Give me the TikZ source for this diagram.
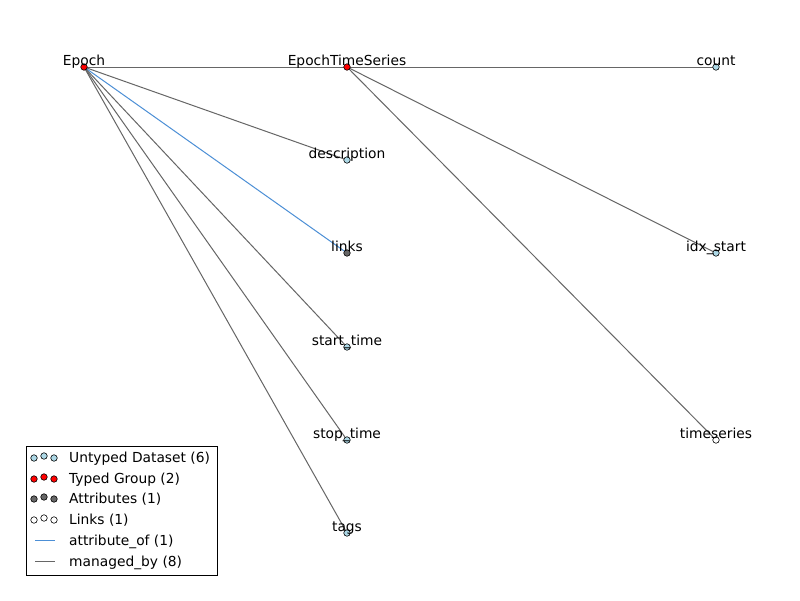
\documentclass[tikz,border=0pt]{standalone}
\usepackage{fontspec}
\setmainfont{DejaVu Sans}
\definecolor{dsfill}{HTML}{ADD8E6}
\definecolor{attrfill}{HTML}{666666}
\definecolor{mgray}{HTML}{666666}
\definecolor{ablue}{HTML}{4C8FD6}
\begin{document}
\begin{tikzpicture}[x=1pt,y=-1pt,
  pt/.style={circle,draw=black,line width=0.6pt,inner sep=0pt,minimum size=6.5pt},
  dset/.style={pt,fill=dsfill},
  tgroup/.style={pt,fill=red},
  attr/.style={pt,fill=attrfill},
  lnk/.style={pt,fill=white},
  managed/.style={draw=mgray,line width=1pt},
  attrof/.style={draw=ablue,line width=1pt},
  lbl/.style={anchor=base,inner sep=0pt,font=\fontsize{13.8}{16}\selectfont},
  legtxt/.style={anchor=base west,inner sep=0pt,font=\fontsize{13.8}{16}\selectfont}]
\useasboundingbox (0,0) rectangle (800,600);
\fill[white] (0,0) rectangle (800,600);
% graph nodes
\coordinate (epoch) at (84,67);
\coordinate (ets) at (347,67);
\coordinate (count) at (716,67);
\coordinate (desc) at (347,160);
\coordinate (links) at (347,253);
\coordinate (start) at (347,347);
\coordinate (stop) at (347,440);
\coordinate (tags) at (347,533);
\coordinate (idx) at (716,253);
\coordinate (ts) at (716,440);
% edges
\draw[managed] (epoch) -- (ets);
\draw[managed] (epoch) -- (desc);
\draw[attrof] (epoch) -- (links);
\draw[managed] (epoch) -- (start);
\draw[managed] (epoch) -- (stop);
\draw[managed] (epoch) -- (tags);
\draw[managed] (ets) -- (count);
\draw[managed] (ets) -- (idx);
\draw[managed] (ets) -- (ts);
% markers
\node[tgroup] (m-epoch) at (epoch) {};
\node[tgroup] (m-ets) at (ets) {};
\node[dset] (m-count) at (count) {};
\node[dset] (m-desc) at (desc) {};
\node[attr] (m-links) at (links) {};
\node[dset] (m-start) at (start) {};
\node[dset] (m-stop) at (stop) {};
\node[dset] (m-tags) at (tags) {};
\node[dset] (m-idx) at (idx) {};
\node[lnk] (m-ts) at (ts) {};
% labels
\node[lbl] (l-epoch) at (84,65.5) {Epoch};
\node[lbl] (l-ets) at (347,65.5) {EpochTimeSeries};
\node[lbl] (l-count) at (716,65.5) {count};
\node[lbl] (l-desc) at (347,158.5) {description};
\node[lbl] (l-links) at (347,251.5) {links};
\node[lbl] (l-start) at (347,345.5) {start\_time};
\node[lbl] (l-stop) at (347,438.5) {stop\_time};
\node[lbl] (l-tags) at (347,531.5) {tags};
\node[lbl] (l-idx) at (716,251.5) {idx\_start};
\node[lbl] (l-ts) at (716,438.5) {timeseries};
% legend
\draw[black,line width=0.8pt,fill=white] (26,446) rectangle (217,575);
\foreach \y/\sty/\txt [count=\i] in {
  457/dset/{Untyped Dataset (6)},
  478/tgroup/{Typed Group (2)},
  498/attr/{Attributes (1)},
  519/lnk/{Links (1)}} {
  \node[\sty] (lg\i a) at (34,\y+1) {};
  \node[\sty] (lg\i b) at (44,\y-1) {};
  \node[\sty] (lg\i c) at (54,\y+1) {};
  \node[legtxt] (lg\i t) at (69,\y+5) {\txt};
}
\coordinate (la1) at (35,540);
\coordinate (la2) at (55,540);
\draw[attrof] (la1) -- (la2);
\node[legtxt] (lg5t) at (69,545) {attribute\_of (1)};
\coordinate (lm1) at (35,561);
\coordinate (lm2) at (55,561);
\draw[managed] (lm1) -- (lm2);
\node[legtxt] (lg6t) at (69,566) {managed\_by (8)};
\end{tikzpicture}
\end{document}
